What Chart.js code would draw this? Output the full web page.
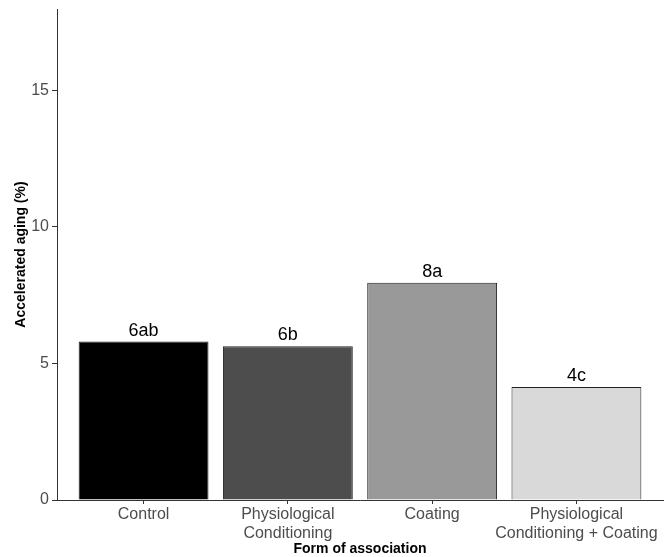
<!DOCTYPE html>
<html>
<head>
<meta charset="utf-8">
<script src="https://cdn.jsdelivr.net/npm/chart.js@4/dist/chart.umd.min.js"></script>
<style>
  html, body { margin: 0; padding: 0; background: #fff; }
  #wrap { width: 671px; height: 557px; }
</style>
</head>
<body>
<div id="wrap"><canvas id="agingChart" width="671" height="557"></canvas></div>
<script>
// data
const categories = [
  ["Control"],
  ["Physiological", "Conditioning"],
  ["Coating"],
  ["Physiological", "Conditioning + Coating"],
];
const agingValues = [5.8, 5.63, 7.95, 4.14];
const letterLabels = ["6ab", "6b", "8a", "4c"];
const barColors = ["#000000", "#4d4d4d", "#999999", "#d9d9d9"];
const yTicks = [0, 5, 10, 15];

const positions = categories.map((c, i) => i + 1);

// letters above each bar
const barLetters = {
  id: "barLetters",
  afterDatasetsDraw(chart) {
    const c = chart.ctx;
    const meta = chart.getDatasetMeta(0);
    c.save();
    c.font = "18px 'Liberation Sans', Arial, sans-serif";
    c.fillStyle = "#000";
    c.textAlign = "center";
    c.textBaseline = "alphabetic";
    meta.data.forEach((bar, i) => {
      c.fillText(letterLabels[i], bar.x, bar.y - 6);
    });
    c.restore();
  },
};

const ctx = document.getElementById("agingChart").getContext("2d");

new Chart(ctx, {
  type: "bar",
  data: {
    datasets: [
      {
        data: positions.map((x, i) => ({ x: x, y: agingValues[i] })),
        backgroundColor: barColors,
        borderColor: "#222",
        borderWidth: 1,
        categoryPercentage: 1,
        barPercentage: 0.9,
      },
    ],
  },
  options: {
    responsive: false,
    animation: false,
    layout: { padding: { top: 9, right: 8, left: 0, bottom: 0 } },
    plugins: {
      legend: { display: false },
      tooltip: { enabled: false },
    },
    scales: {
      x: {
        type: "linear",
        min: 0.4,
        max: 4.6,
        offset: false,
        afterBuildTicks(scale) {
          scale.ticks = positions.map((v) => ({ value: v }));
        },
        afterFit(scale) {
          scale.height = 57;
          scale.paddingLeft = 0;
          scale.paddingRight = 0;
        },
        ticks: {
          callback: (v) => categories[v - 1],
          color: "#4d4d4d",
          font: { family: "'Liberation Sans', Arial, sans-serif", size: 16 },
          padding: 1,
          maxRotation: 0,
          autoSkip: false,
        },
        grid: { offset: false, drawOnChartArea: false, tickLength: 4, color: "#333" },
        border: { display: true, color: "#333", width: 1 },
        title: {
          display: true,
          text: "Form of association",
          color: "#000",
          font: { family: "'Liberation Sans', Arial, sans-serif", size: 14, weight: "bold" },
          padding: { top: 0, bottom: -1 },
        },
      },
      y: {
        min: 0,
        max: 17.97,
        afterBuildTicks(scale) {
          scale.ticks = yTicks.map((v) => ({ value: v }));
        },
        afterFit(scale) {
          scale.width = 57;
          scale.paddingTop = 0;
          scale.paddingBottom = 0;
        },
        ticks: {
          color: "#4d4d4d",
          font: { family: "'Liberation Sans', Arial, sans-serif", size: 16 },
          padding: 3,
        },
        grid: { drawOnChartArea: false, tickLength: 5, color: "#333" },
        border: { display: true, color: "#333", width: 1 },
        title: {
          display: true,
          text: "Accelerated aging (%)",
          color: "#000",
          font: { family: "'Liberation Sans', Arial, sans-serif", size: 14, weight: "bold" },
          padding: { top: 13, bottom: 0 },
        },
      },
    },
  },
  plugins: [barLetters],
});
</script>
</body>
</html>
